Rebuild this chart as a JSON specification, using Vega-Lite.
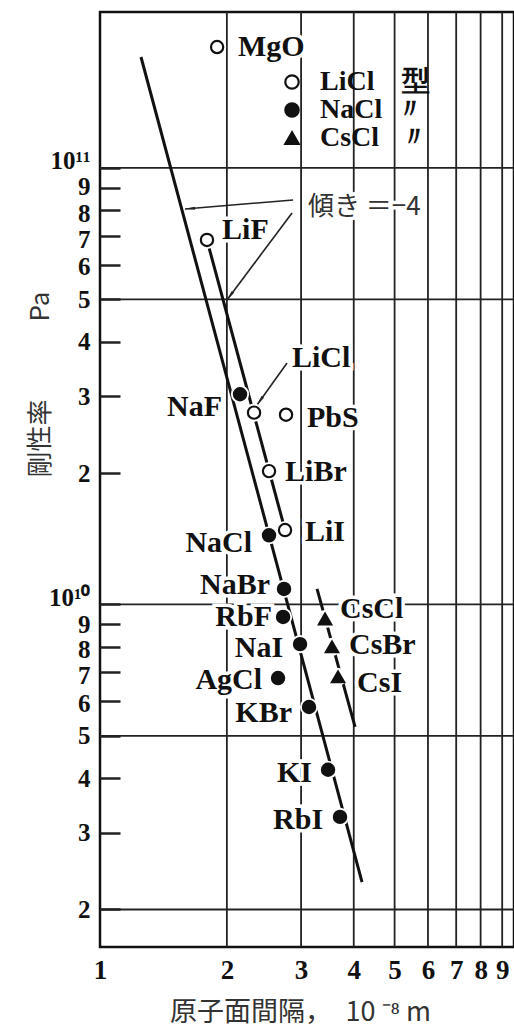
{
  "$schema": "https://vega.github.io/schema/vega-lite/v6.json",
  "width": 414,
  "height": 935,
  "autosize": {"type": "none"},
  "padding": {"left": 100, "top": 12, "right": 0, "bottom": 81},
  "background": "white",
  "config": {
    "view": {"stroke": "#111", "strokeWidth": 2.5},
    "font": "Liberation Serif"
  },
  "datasets": {
    "points": [
      {"compound": "MgO", "x": 1.896, "y": 1.892e11, "type": "LiCl"},
      {"compound": "LiF", "x": 1.794, "y": 6.84e10, "type": "LiCl"},
      {"compound": "NaF", "x": 2.149, "y": 3.03e10, "type": "NaCl"},
      {"compound": "LiCl", "x": 2.32, "y": 2.75e10, "type": "LiCl"},
      {"compound": "PbS", "x": 2.763, "y": 2.72e10, "type": "LiCl"},
      {"compound": "LiBr", "x": 2.518, "y": 2.02e10, "type": "LiCl"},
      {"compound": "LiI", "x": 2.748, "y": 1.48e10, "type": "LiCl"},
      {"compound": "NaCl", "x": 2.518, "y": 1.44e10, "type": "NaCl"},
      {"compound": "NaBr", "x": 2.733, "y": 1.085e10, "type": "NaCl"},
      {"compound": "RbF", "x": 2.719, "y": 9.36e9, "type": "NaCl"},
      {"compound": "NaI", "x": 2.983, "y": 8.11e9, "type": "NaCl"},
      {"compound": "AgCl", "x": 2.645, "y": 6.78e9, "type": "NaCl"},
      {"compound": "KBr", "x": 3.133, "y": 5.82e9, "type": "NaCl"},
      {"compound": "CsCl", "x": 3.42, "y": 9.26e9, "type": "CsCl"},
      {"compound": "CsBr", "x": 3.552, "y": 7.99e9, "type": "CsCl"},
      {"compound": "CsI", "x": 3.671, "y": 6.82e9, "type": "CsCl"},
      {"compound": "KI", "x": 3.476, "y": 4.18e9, "type": "NaCl"},
      {"compound": "RbI", "x": 3.711, "y": 3.26e9, "type": "NaCl"}
    ],
    "fits": [
      {"group": "NaCl", "x": 1.251, "y": 1.795e11, "x2": 4.185, "y2": 2.312e9},
      {"group": "LiCl", "x": 1.794, "y": 6.835e10, "x2": 2.748, "y2": 1.481e10},
      {"group": "CsCl", "x": 3.273, "y": 1.085e10, "x2": 4.029, "y2": 5.24e9}
    ],
    "vgrid": [{"x": 2}, {"x": 3}, {"x": 4}, {"x": 5}, {"x": 6}, {"x": 7}, {"x": 8}, {"x": 9}],
    "hgrid": [{"y": 2e9}, {"y": 5e9}, {"y": 1e10}, {"y": 5e10}, {"y": 1e11}],
    "labelsLeft": [
      {"text": "MgO", "x": 2.126, "y": 1.892e11},
      {"text": "LiF", "x": 1.948, "y": 7.205e10},
      {"text": "LiCl", "x": 2.855, "y": 3.668e10},
      {"text": "PbS", "x": 3.099, "y": 2.673e10},
      {"text": "LiBr", "x": 2.748, "y": 2.011e10},
      {"text": "LiI", "x": 3.065, "y": 1.465e10},
      {"text": "CsCl", "x": 3.711, "y": 9.76e9},
      {"text": "CsBr", "x": 3.898, "y": 8.07e9},
      {"text": "CsI", "x": 4.073, "y": 6.61e9}
    ],
    "labelsRight": [
      {"text": "NaF", "x": 1.948, "y": 2.833e10},
      {"text": "NaCl", "x": 2.295, "y": 1.382e10},
      {"text": "NaBr", "x": 2.532, "y": 1.108e10},
      {"text": "RbF", "x": 2.56, "y": 9.36e9},
      {"text": "NaI", "x": 2.719, "y": 7.95e9},
      {"text": "AgCl", "x": 2.424, "y": 6.71e9},
      {"text": "KBr", "x": 2.855, "y": 5.64e9},
      {"text": "KI", "x": 3.185, "y": 4.11e9},
      {"text": "RbI", "x": 3.383, "y": 3.21e9}
    ],
    "arrows": [
      {"name": "a1", "x": 2.871, "y": 8.445e10, "x2": 1.591, "y2": 8.05e10},
      {"name": "a2", "x": 2.855, "y": 7.885e10, "x2": 2.001, "y2": 4.983e10},
      {"name": "a3", "x": 2.778, "y": 3.573e10, "x2": 2.358, "y2": 2.862e10}
    ],
    "note": [{"text": "傾き ＝−4", "x": 3.116, "y": 8.136e10}]
  },
  "layer": [
    {
      "data": {"name": "vgrid"},
      "mark": {"type": "rule", "color": "#222", "strokeWidth": 1.8},
      "encoding": {
        "x": {
          "field": "x", "type": "quantitative",
          "scale": {"type": "log", "domain": [1, 9.6]},
          "axis": {
            "values": [1, 2, 3, 4, 5, 6, 7, 8, 9],
            "ticks": false, "domain": false, "grid": false,
            "labelFont": "Liberation Serif", "labelFontWeight": "bold", "labelFontSize": 27,
            "labelColor": "#111", "labelPadding": 10, "labelFlush": false,
            "title": "原子面間隔，　10 ⁻⁸ m",
            "titleFont": "Noto Sans CJK JP", "titleFontWeight": "normal", "titleFontSize": 27,
            "titleColor": "#333", "titleX": 200, "titleY": 65, "titleBaseline": "middle"
          }
        }
      }
    },
    {
      "data": {"name": "hgrid"},
      "mark": {"type": "rule", "color": "#222", "strokeWidth": 1.8},
      "encoding": {
        "y": {
          "field": "y", "type": "quantitative",
          "scale": {"type": "log", "domain": [1.641e9, 2.276e11]},
          "axis": {
            "values": [2e9, 3e9, 4e9, 5e9, 6e9, 7e9, 8e9, 9e9, 1e10, 2e10, 3e10, 4e10, 5e10, 6e10, 7e10, 8e10, 9e10, 1e11],
            "labelExpr": "datum.value == 1e11 ? '10¹¹' : datum.value == 1e10 ? '10¹⁰' : datum.value > 1e10 ? format(datum.value / 1e10, '.0f') : format(datum.value / 1e9, '.0f')",
            "ticks": true, "tickSize": -20, "tickWidth": 2.5, "tickColor": "#222",
            "domain": false, "grid": false,
            "labelFont": "Liberation Serif", "labelFontWeight": "bold", "labelFontSize": 25,
            "labelOffset": {
              "condition": [
                {"test": "datum.value == 1e11 || datum.value == 1e10", "value": -7},
                {"test": "datum.value == 9e10", "value": -1},
                {"test": "datum.value == 8e10 || datum.value == 8e9 || datum.value == 7e9", "value": 3},
                {"test": "datum.value == 7e10", "value": 4},
                {"test": "datum.value == 6e10 || datum.value == 6e9", "value": 2}
              ],
              "value": 0
            },
            "labelColor": "#111", "labelPadding": 30, "labelFlush": false, "labelOverlap": false,
            "title": "剛性率　　　Pa",
            "titleFont": "Noto Sans CJK JP", "titleFontWeight": "normal", "titleFontSize": 26,
            "titleColor": "#333", "titleX": -60, "titleY": 372, "titleAlign": "center", "titleBaseline": "middle"
          }
        }
      }
    },
    {
      "data": {"name": "labelsLeft"},
      "mark": {"type": "text", "align": "left", "baseline": "middle", "font": "Liberation Serif", "fontWeight": "bold", "fontSize": 30, "fill": "white", "stroke": "white", "strokeWidth": 7},
      "encoding": {
        "x": {"field": "x", "type": "quantitative", "scale": {"type": "log", "domain": [1, 9.6]}},
        "y": {"field": "y", "type": "quantitative", "scale": {"type": "log", "domain": [1.641e9, 2.276e11]}},
        "text": {"field": "text"}
      }
    },
    {
      "data": {"name": "labelsRight"},
      "mark": {"type": "text", "align": "right", "baseline": "middle", "font": "Liberation Serif", "fontWeight": "bold", "fontSize": 30, "fill": "white", "stroke": "white", "strokeWidth": 7},
      "encoding": {
        "x": {"field": "x", "type": "quantitative", "scale": {"type": "log", "domain": [1, 9.6]}},
        "y": {"field": "y", "type": "quantitative", "scale": {"type": "log", "domain": [1.641e9, 2.276e11]}},
        "text": {"field": "text"}
      }
    },
    {
      "data": {"name": "note"},
      "mark": {"type": "text", "align": "left", "baseline": "middle", "font": "Noto Sans CJK JP", "fontSize": 26, "fill": "white", "stroke": "white", "strokeWidth": 7},
      "encoding": {
        "x": {"field": "x", "type": "quantitative", "scale": {"type": "log", "domain": [1, 9.6]}},
        "y": {"field": "y", "type": "quantitative", "scale": {"type": "log", "domain": [1.641e9, 2.276e11]}},
        "text": {"field": "text"}
      }
    },
    {
      "data": {"name": "fits"},
      "mark": {"type": "rule", "color": "#111", "strokeWidth": 3},
      "encoding": {
        "x": {"field": "x", "type": "quantitative", "scale": {"type": "log", "domain": [1, 9.6]}},
        "y": {"field": "y", "type": "quantitative", "scale": {"type": "log", "domain": [1.641e9, 2.276e11]}},
        "x2": {"field": "x2"},
        "y2": {"field": "y2"}
      }
    },
    {
      "data": {"name": "arrows"},
      "mark": {"type": "rule", "color": "#222", "strokeWidth": 1.6},
      "encoding": {
        "x": {"field": "x", "type": "quantitative", "scale": {"type": "log", "domain": [1, 9.6]}},
        "y": {"field": "y", "type": "quantitative", "scale": {"type": "log", "domain": [1.641e9, 2.276e11]}},
        "x2": {"field": "x2"},
        "y2": {"field": "y2"}
      }
    },
    {
      "data": {"name": "arrows"},
      "transform": [{"filter": "datum.name == 'a1'"}],
      "mark": {"type": "point", "shape": "M0,0L0.3,2L-0.3,2Z", "filled": true, "color": "#222", "opacity": 1, "size": 100, "angle": 265},
      "encoding": {
        "x": {"field": "x2", "type": "quantitative", "scale": {"type": "log", "domain": [1, 9.6]}},
        "y": {"field": "y2", "type": "quantitative", "scale": {"type": "log", "domain": [1.641e9, 2.276e11]}}
      }
    },
    {
      "data": {"name": "arrows"},
      "transform": [{"filter": "datum.name == 'a2'"}],
      "mark": {"type": "point", "shape": "M0,0L0.3,2L-0.3,2Z", "filled": true, "color": "#222", "opacity": 1, "size": 100, "angle": 217},
      "encoding": {
        "x": {"field": "x2", "type": "quantitative", "scale": {"type": "log", "domain": [1, 9.6]}},
        "y": {"field": "y2", "type": "quantitative", "scale": {"type": "log", "domain": [1.641e9, 2.276e11]}}
      }
    },
    {
      "data": {"name": "arrows"},
      "transform": [{"filter": "datum.name == 'a3'"}],
      "mark": {"type": "point", "shape": "M0,0L0.3,2L-0.3,2Z", "filled": true, "color": "#222", "opacity": 1, "size": 100, "angle": 215},
      "encoding": {
        "x": {"field": "x2", "type": "quantitative", "scale": {"type": "log", "domain": [1, 9.6]}},
        "y": {"field": "y2", "type": "quantitative", "scale": {"type": "log", "domain": [1.641e9, 2.276e11]}}
      }
    },
    {
      "data": {"name": "points"},
      "mark": {"type": "point", "shape": "circle", "filled": true, "color": "white", "opacity": 1, "size": 330},
      "encoding": {
        "x": {"field": "x", "type": "quantitative", "scale": {"type": "log", "domain": [1, 9.6]}},
        "y": {"field": "y", "type": "quantitative", "scale": {"type": "log", "domain": [1.641e9, 2.276e11]}}
      }
    },
    {
      "data": {"name": "points"},
      "mark": {"type": "point", "filled": false, "strokeWidth": 2.2, "opacity": 1, "fillOpacity": 1, "strokeOpacity": 1, "size": 150},
      "encoding": {
        "x": {"field": "x", "type": "quantitative", "scale": {"type": "log", "domain": [1, 9.6]}},
        "y": {"field": "y", "type": "quantitative", "scale": {"type": "log", "domain": [1.641e9, 2.276e11]}},
        "shape": {
          "field": "type", "type": "nominal",
          "scale": {"domain": ["LiCl", "NaCl", "CsCl"], "range": ["circle", "circle", "triangle-up"]},
          "legend": {
            "orient": "none", "legendX": 178, "legendY": 56, "title": null,
            "labelFont": "Liberation Serif", "labelFontWeight": "bold", "labelFontSize": 28, "labelColor": "#111",
            "labelExpr": "datum.label == 'LiCl' ? 'LiCl\u00a0\u00a0\u00a0\u00a0型' : datum.label == 'NaCl' ? 'NaCl\u00a0\u00a0〃' : 'CsCl\u00a0\u00a0\u00a0〃'",
            "symbolSize": 180, "symbolStrokeWidth": 2.2,
            "rowPadding": -1, "labelOffset": 14, "padding": 0
          }
        },
        "fill": {
          "field": "type", "type": "nominal",
          "scale": {"domain": ["LiCl", "NaCl", "CsCl"], "range": ["white", "#111", "#111"]},
          "legend": {
            "orient": "none", "legendX": 178, "legendY": 56, "title": null,
            "labelFont": "Liberation Serif", "labelFontWeight": "bold", "labelFontSize": 28, "labelColor": "#111",
            "labelExpr": "datum.label == 'LiCl' ? 'LiCl\u00a0\u00a0\u00a0\u00a0型' : datum.label == 'NaCl' ? 'NaCl\u00a0\u00a0〃' : 'CsCl\u00a0\u00a0\u00a0〃'",
            "symbolSize": 180, "symbolStrokeWidth": 2.2,
            "rowPadding": -1, "labelOffset": 14, "padding": 0
          }
        },
        "stroke": {
          "field": "type", "type": "nominal",
          "scale": {"domain": ["LiCl", "NaCl", "CsCl"], "range": ["#111", "#111", "#111"]},
          "legend": {
            "orient": "none", "legendX": 178, "legendY": 56, "title": null,
            "labelFont": "Liberation Serif", "labelFontWeight": "bold", "labelFontSize": 28, "labelColor": "#111",
            "labelExpr": "datum.label == 'LiCl' ? 'LiCl\u00a0\u00a0\u00a0\u00a0型' : datum.label == 'NaCl' ? 'NaCl\u00a0\u00a0〃' : 'CsCl\u00a0\u00a0\u00a0〃'",
            "symbolSize": 180, "symbolStrokeWidth": 2.2,
            "rowPadding": -1, "labelOffset": 14, "padding": 0
          }
        }
      }
    },
    {
      "data": {"name": "labelsLeft"},
      "mark": {"type": "text", "align": "left", "baseline": "middle", "font": "Liberation Serif", "fontWeight": "bold", "fontSize": 30, "fill": "#111"},
      "encoding": {
        "x": {"field": "x", "type": "quantitative", "scale": {"type": "log", "domain": [1, 9.6]}},
        "y": {"field": "y", "type": "quantitative", "scale": {"type": "log", "domain": [1.641e9, 2.276e11]}},
        "text": {"field": "text"}
      }
    },
    {
      "data": {"name": "labelsRight"},
      "mark": {"type": "text", "align": "right", "baseline": "middle", "font": "Liberation Serif", "fontWeight": "bold", "fontSize": 30, "fill": "#111"},
      "encoding": {
        "x": {"field": "x", "type": "quantitative", "scale": {"type": "log", "domain": [1, 9.6]}},
        "y": {"field": "y", "type": "quantitative", "scale": {"type": "log", "domain": [1.641e9, 2.276e11]}},
        "text": {"field": "text"}
      }
    },
    {
      "data": {"name": "note"},
      "mark": {"type": "text", "align": "left", "baseline": "middle", "font": "Noto Sans CJK JP", "fontSize": 26, "fill": "#333"},
      "encoding": {
        "x": {"field": "x", "type": "quantitative", "scale": {"type": "log", "domain": [1, 9.6]}},
        "y": {"field": "y", "type": "quantitative", "scale": {"type": "log", "domain": [1.641e9, 2.276e11]}},
        "text": {"field": "text"}
      }
    }
  ]
}
